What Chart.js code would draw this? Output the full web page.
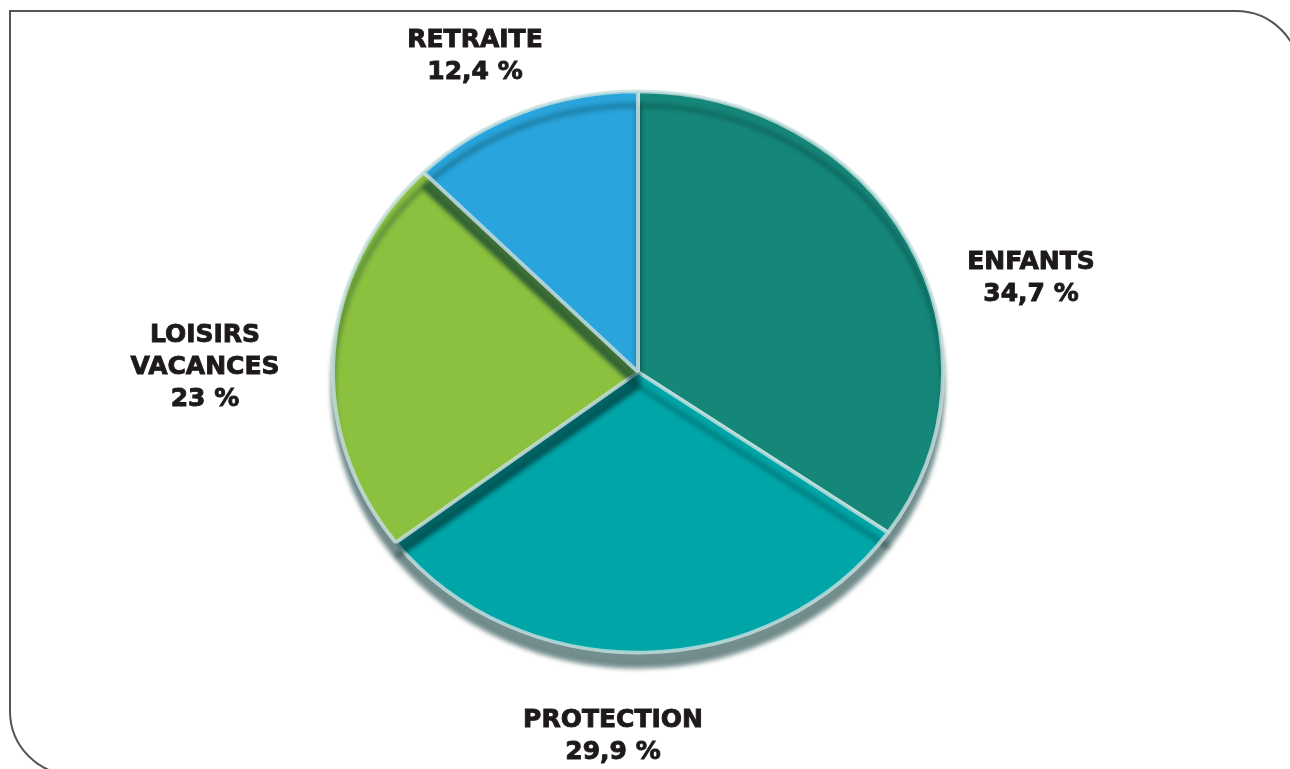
<!DOCTYPE html>
<html>
<head>
<meta charset="utf-8">
<script src="https://cdn.jsdelivr.net/npm/chart.js@4/dist/chart.umd.min.js"></script>
<style>
  html, body { margin: 0; padding: 0; background: #fff; }
  #wrap { width: 1290px; height: 769px; position: relative; }
</style>
</head>
<body>
<div id="wrap"><canvas id="pie"></canvas></div>
<script>
// donnees
const categories = ['ENFANTS', 'PROTECTION', 'LOISIRS VACANCES', 'RETRAITE'];
const labelLines = [['ENFANTS'], ['PROTECTION'], ['LOISIRS', 'VACANCES'], ['RETRAITE']];
const values = [34.7, 29.9, 23, 12.4];
const valueText = ['34,7 %', '29,9 %', '23 %', '12,4 %'];
const colors = ['#158779', '#00a5a8', '#8cc03f', '#29a4dc'];

// position des etiquettes (centre du premier mot)
const labelPos = [[1031, 262], [613, 720], [205, 335], [475, 40]];

// cadre arrondi en haut a droite et en bas a gauche
const framePlugin = {
    id: 'frame',
    beforeDraw(chart) {
        const ctx = chart.ctx;
        const x0 = 10, y0 = 11, x1 = 1300, y1 = 775, r = 64;
        ctx.save();
        ctx.strokeStyle = '#555';
        ctx.lineWidth = 2;
        ctx.beginPath();
        ctx.moveTo(x0, y0);
        ctx.lineTo(x1 - r, y0);
        ctx.arcTo(x1, y0, x1, y0 + r, r);
        ctx.lineTo(x1, y1);
        ctx.lineTo(x0 + r, y1);
        ctx.arcTo(x0, y1, x0, y1 - r, r);
        ctx.closePath();
        ctx.stroke();
        ctx.restore();
    }
};

// camembert legerement aplati + ombre pour l'effet de relief
const tiltPlugin = {
    id: 'tilt',
    beforeDatasetsDraw(chart) {
        const ctx = chart.ctx;
        const arc = chart.getDatasetMeta(0).data[0];
        ctx.save();
        ctx.translate(arc.x, arc.y);
        ctx.scale(1, 0.92);
        ctx.translate(-arc.x, -arc.y);
        ctx.shadowColor = 'rgba(0,50,50,0.55)';
        ctx.shadowBlur = 5;
        ctx.shadowOffsetY = 14;
    },
    afterDatasetsDraw(chart) {
        chart.ctx.restore();
    }
};

const labelPlugin = {
    id: 'outLabels',
    afterDraw(chart) {
        const ctx = chart.ctx;
        ctx.save();
        ctx.fillStyle = '#1e1a1b';
        ctx.strokeStyle = '#1e1a1b';
        ctx.lineWidth = 0.9;
        ctx.font = 'bold 25px "DejaVu Sans"';
        ctx.textAlign = 'center';
        ctx.textBaseline = 'middle';
        const lh = 32;
        labelLines.forEach((lines, i) => {
            const [x, y] = labelPos[i];
            const all = lines.concat([valueText[i]]);
            all.forEach((t, j) => {
                ctx.fillText(t, x, y + j * lh);
                ctx.strokeText(t, x, y + j * lh);
            });
        });
        ctx.restore();
    }
};

new Chart(document.getElementById('pie'), {
    type: 'pie',
    data: {
        labels: categories,
        datasets: [{
            data: values,
            backgroundColor: colors,
            borderColor: 'rgba(200,225,225,0.8)',
            borderWidth: 4
        }]
    },
    options: {
        responsive: true,
        maintainAspectRatio: false,
        animation: false,
        layout: { padding: { top: 65, bottom: 90, left: 331, right: 345 } },
        plugins: {
            legend: { display: false },
            tooltip: { enabled: false }
        }
    },
    plugins: [framePlugin, tiltPlugin, labelPlugin]
});
</script>
</body>
</html>
